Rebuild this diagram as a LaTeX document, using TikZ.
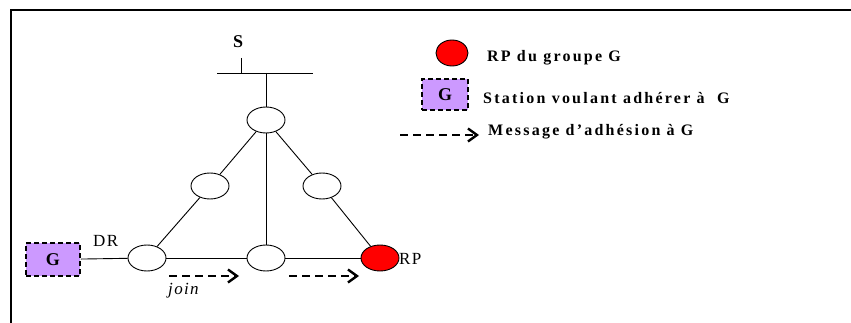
\documentclass[tikz,border=0pt]{standalone}
\usepackage{fontspec}
\setmainfont{Liberation Serif}
\newfontfamily\legfont{Liberation Serif}[LetterSpace=14]
\newfontfamily\lblfont{Liberation Serif}[LetterSpace=8]
\usetikzlibrary{shapes.geometric,arrows.meta}
\definecolor{lav}{RGB}{204,153,255}
\begin{document}
\begin{tikzpicture}[x=1pt,y=-1pt,
  router/.style={draw,ellipse,minimum width=38pt,minimum height=26pt,inner sep=0pt,line width=0.9pt},
  rpnode/.style={router,fill=red},
  station/.style={draw,fill=lav,line width=1.8pt,dash pattern=on 5pt off 3pt,inner sep=0pt,
    font=\bfseries\fontsize{18}{20}\selectfont},
  msg/.style={line width=2.4pt,dash pattern=on 8pt off 5pt,
    -{Straight Barb[length=9pt,width=13pt,line width=2.4pt]}},
  link/.style={line width=0.9pt},
  lbl/.style={font=\lblfont\fontsize{17}{19}\selectfont,inner sep=0pt,anchor=base west},
  leg/.style={font=\legfont\bfseries\fontsize{16}{18}\selectfont,inner sep=0pt,anchor=base west}
]
\useasboundingbox (0,0) rectangle (851,323);
% frame
\draw[line width=1.5pt] (11,323) -- (11,10) -- (851,10);

% bus with source S
\coordinate (busL) at (217,73);
\coordinate (busR) at (313,73);
\coordinate (busC) at (266,73);
\coordinate (sTop) at (241,58);
\coordinate (sBot) at (241,73);
\draw[link] (busL) -- (busR);
\draw[link] (sTop) -- (sBot);
\node[font=\bfseries\fontsize{18}{20}\selectfont,inner sep=0pt,anchor=base west] (slbl) at (233,48) {S};

% routers
\node[router] (top) at (266,120) {};
\node[router] (ml) at (210,186) {};
\node[router] (mr) at (322,186) {};
\node[router] (dr) at (147,258) {};
\node[router] (mb) at (266,258) {};
\node[rpnode] (rp) at (380,258) {};
\node[station,minimum width=54pt,minimum height=33pt] (gst) at (53,259.5) {G};

% links
\draw[link] (busC) -- (top);
\draw[link] (top) -- (ml);
\draw[link] (top) -- (mr);
\draw[link] (top) -- (mb);
\draw[link] (ml) -- (dr);
\draw[link] (mr) -- (rp);
\draw[link] (gst) -- (dr);
\draw[link] (dr) -- (mb);
\draw[link] (mb) -- (rp);

% labels
\node[lbl] (drlbl) at (93,247) {DR};
\node[lbl] (rplbl) at (399,264) {RP};
\node[lbl,font=\lblfont\itshape\fontsize{17}{19}\selectfont] (joinlbl) at (168,294) {join};

% join messages
\coordinate (a1s) at (169,276);
\coordinate (a1e) at (239,276);
\coordinate (a2s) at (289,276);
\coordinate (a2e) at (359,276);
\draw[msg] (a1s) -- (a1e);
\draw[msg] (a2s) -- (a2e);

% legend
\node[rpnode,minimum width=32pt,minimum height=26pt] (legrp) at (452,53) {};
\node[leg] (legrptxt) at (487,62) {RP du groupe G};
\node[station,minimum width=46pt,minimum height=31pt] (legg) at (445,94.5) {G};
\node[leg] (leggtxt) at (483,103.5) {Station voulant adhérer à\ \ G};
\coordinate (lms) at (400,135);
\coordinate (lme) at (479,135);
\draw[msg] (lms) -- (lme);
\node[leg] (legmtxt) at (488,136) {Message d’adhésion à G};
\end{tikzpicture}
\end{document}
